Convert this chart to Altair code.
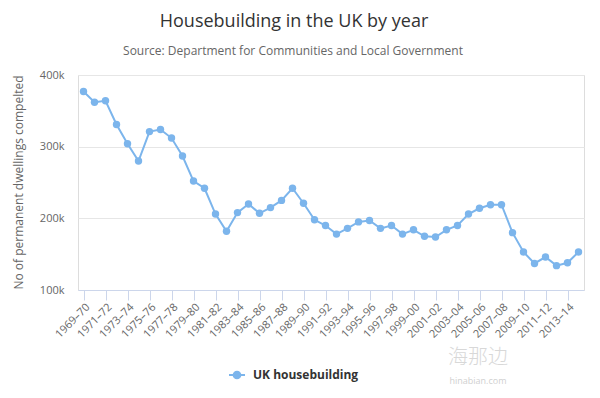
import altair as alt
import pandas as pd

years = ["1969–70", "1970–71", "1971–72", "1972–73", "1973–74", "1974–75", "1975–76", "1976–77",
         "1977–78", "1978–79", "1979–80", "1980–81", "1981–82", "1982–83", "1983–84", "1984–85",
         "1985–86", "1986–87", "1987–88", "1988–89", "1989–90", "1990–91", "1991–92", "1992–93",
         "1993–94", "1994–95", "1995–96", "1996–97", "1997–98", "1998–99", "1999–00", "2000–01",
         "2001–02", "2002–03", "2003–04", "2004–05", "2005–06", "2006–07", "2007–08", "2008–09",
         "2009–10", "2010–11", "2011–12", "2012–13", "2013–14", "2014–15"]
dwellings = [377000, 362000, 364000, 331000, 304000, 280000, 321000, 324000, 312000, 287000,
             252000, 242000, 206000, 182000, 208000, 220000, 207000, 215000, 225000, 242000,
             221000, 198000, 190000, 178000, 186000, 195000, 197000, 186000, 190000, 178000,
             184000, 175000, 174000, 184000, 190000, 206000, 214000, 219000, 219000, 180000,
             153000, 137000, 146000, 134000, 138000, 153000]
series_name = "UK housebuilding"
tick_years = years[::2]
y_ticks = [100000, 200000, 300000, 400000]

title_text = "Housebuilding in the UK by year"
subtitle_text = "Source: Department for Communities and Local Government"
y_title = "No of permanent dwellings compelted"

df = pd.DataFrame({"year": years, "value": dwellings, "series": series_name})

FONT = "Open Sans"
BLUE = "#7cb5ec"

x_enc = alt.X("year:N", sort=years, scale=alt.Scale(type="point", padding=0.5),
              axis=alt.Axis(values=tick_years, title=None, labelAngle=-45, labelAlign="right",
                            labelBaseline="top", labelFontSize=11, labelColor="#666666",
                            labelFont=FONT, tickSize=10, tickColor="#ccd6eb",
                            domainColor="#ccd6eb", labelPadding=1, grid=False))
y_enc = alt.Y("value:Q", scale=alt.Scale(domain=[100000, 400000], nice=False, zero=False),
              axis=alt.Axis(values=y_ticks, format="~s", title=y_title, labelFontSize=11,
                            labelColor="#666666", labelFont=FONT, labelPadding=14,
                            ticks=False, domain=False, gridColor="#e6e6e6",
                            titleFont=FONT, titleFontSize=12, titleColor="#666666",
                            titleFontWeight="normal", titleX=-60, titleY=107,
                            titleAngle=270, titleAlign="center", titleBaseline="middle"))
color_enc = alt.Color("series:N", scale=alt.Scale(range=[BLUE]),
                      legend=alt.Legend(title=None, orient="none", legendX=150, legendY=291,
                                        symbolType="M-1,0L-0.4,0M0.4,0L1,0M-0.42,0A0.42,0.42 0 1,0 0.42,0A0.42,0.42 0 1,0 -0.42,0",
                                        symbolSize=256, symbolStrokeWidth=2,
                                        symbolFillColor=BLUE, symbolStrokeColor=BLUE,
                                        labelFont=FONT, labelFontSize=12, labelFontWeight="bold",
                                        labelColor="#333333", labelOffset=7, padding=0))

line = alt.Chart(df).mark_line(strokeWidth=2).encode(x=x_enc, y=y_enc, color=color_enc)
points = alt.Chart(df).mark_point(filled=True, size=55, opacity=1, shape="circle").encode(
    x=x_enc, y=y_enc, color=color_enc)

one = alt.Data(values=[{}])
title = alt.Chart(one).mark_text(text=title_text, font=FONT, fontSize=18, color="#333333",
                                 align="center", baseline="alphabetic").encode(
    x=alt.value(216), y=alt.value(-48))
subtitle = alt.Chart(one).mark_text(text=subtitle_text, font=FONT, fontSize=12, color="#666666",
                                    align="center", baseline="alphabetic").encode(
    x=alt.value(215), y=alt.value(-20))
wm1 = alt.Chart(one).mark_text(text="海那边", font="Noto Sans CJK SC", fontSize=20,
                               fontWeight=300, color="#d8d8d8", align="center",
                               baseline="middle").encode(x=alt.value(400), y=alt.value(283))
wm2 = alt.Chart(one).mark_text(text="hinabian.com", font=FONT, fontSize=9, color="#d0d0d0",
                               align="center", baseline="middle").encode(
    x=alt.value(400), y=alt.value(306))

chart = alt.layer(line, points, title, subtitle, wm1, wm2).properties(
    width=506, height=215,
    autosize=alt.AutoSizeParams(type="none"),
    padding={"left": 70, "top": 67, "right": 8, "bottom": 100},
).configure_view(stroke=None).configure(background="white")

chart.save("out.html", embed_options={"renderer": "svg", "actions": False})
